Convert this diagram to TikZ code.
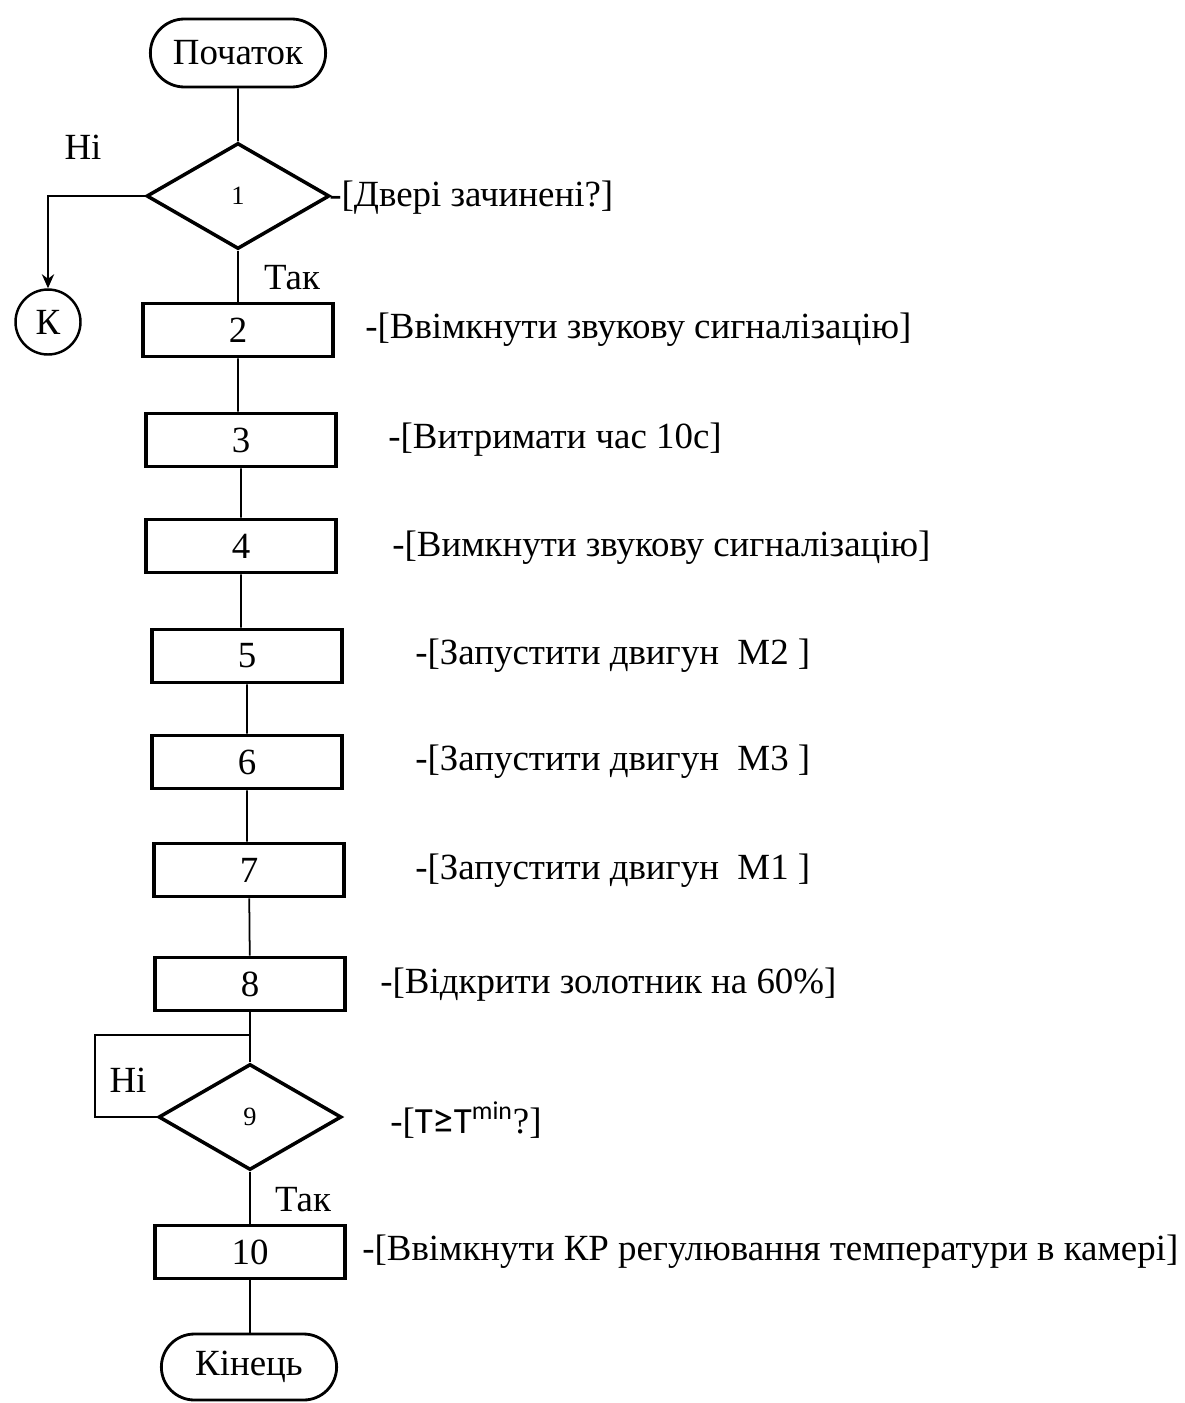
\documentclass[tikz,border=0pt]{standalone}
\usepackage{fontspec}
\setmainfont{Liberation Serif}
\newfontfamily\calfont{Carlito}
\usepackage{tikz}
\usetikzlibrary{shapes.geometric,shapes.misc,arrows.meta}

\begin{document}
\begin{tikzpicture}[x=0.02cm, y=-0.02cm,
  term/.style={draw, rounded rectangle, line width=1.6pt, minimum width=3.74cm, minimum height=1.36cm, font=\fontsize{21}{0}\selectfont},
  block/.style={draw, rectangle, line width=2.2pt, minimum width=3.8cm, minimum height=1.06cm, inner sep=0pt, font=\fontsize{21}{0}\selectfont},
  cond/.style={draw, diamond, line width=2pt, minimum width=3.66cm, minimum height=2.12cm, inner sep=0pt, font=\fontsize{15}{0}\selectfont},
  lbl/.style={anchor=west, inner sep=0pt, font=\fontsize{21}{0}\selectfont},
  link/.style={line width=1pt}]
\useasboundingbox (0,0) rectangle (1184,1403);

\node (Start) at (238, 53) [term] {Початок};
\node (D1) at (238, 196) [cond] {1};
\node (K) at (48, 322) [draw, circle, line width=1.4pt, minimum size=1.3cm, inner sep=0pt, font=\fontsize{21}{0}\selectfont] {К};
\node (B2) at (238, 330) [block] {2};
\node (B3) at (241, 440) [block] {3};
\node (B4) at (241, 546) [block] {4};
\node (B5) at (247, 656) [block] {5};
\node (B6) at (247, 762) [block] {6};
\node (B7) at (249, 870) [block] {7};
\node (B8) at (250, 984) [block] {8};
\node (D9) at (250, 1117) [cond] {9};
\node (B10) at (250, 1252) [block] {10};
\node (End) at (249, 1367) [term, minimum height=1.32cm] {Кінець};

\node (no1) at (83, 147) [font=\fontsize{21}{0}\selectfont] {Ні};
\node (yes1) at (292, 278) [font=\fontsize{21}{0}\selectfont] {Так};
\node (no9) at (128, 1080) [font=\fontsize{21}{0}\selectfont] {Ні};
\node (yes9) at (303, 1200) [font=\fontsize{21}{0}\selectfont] {Так};

\node (L1) at (329, 198) [lbl] {-[Двері зачинені?]};
\node (L2) at (365, 330) [lbl] {-[Ввімкнути звукову сигналізацію]};
\node (L3) at (388, 440) [lbl] {-[Витримати час 10с]};
\node (L4) at (392, 548) [lbl] {-[Вимкнути звукову сигналізацію]};
\node (L5) at (415, 656) [lbl] {-[Запустити двигун\ \ М2 ]};
\node (L6) at (415, 762) [lbl] {-[Запустити двигун\ \ М3 ]};
\node (L7) at (415, 871) [lbl] {-[Запустити двигун\ \ М1 ]};
\node (L8) at (380, 985) [lbl] {-[Відкрити золотник на 60\%]};
\node (L9) at (390, 1120) [lbl] {-[{\calfont T{\fontsize{24}{0}\selectfont≥}T\textsuperscript{min}}?]};
\node (L10) at (362, 1252) [lbl] {-[Ввімкнути КР регулювання температури в камері]};

\coordinate (c1) at (48, 196);
\coordinate (c9a) at (95, 1117);
\coordinate (c9b) at (95, 1035);
\coordinate (c9c) at (250, 1035);

\draw[link] (Start)--(D1);
\draw[link] (D1)--(B2);
\draw[link, -{Stealth[length=8pt,width=7pt]}] (D1.west)--(c1)--(K);
\draw[link] (B2.south)--(B2.south |- B3.north) (B3)--(B4) (B4.south)--(B4.south |- B5.north) (B5)--(B6) (B6.south)--(B6.south |- B7.north) (B7)--(B8);
\draw[link] (B8)--(D9) (D9)--(B10) (B10)--(End.north -| B10);
\draw[link] (D9.west)--(c9a)--(c9b)--(c9c);

\end{tikzpicture}
\end{document}
